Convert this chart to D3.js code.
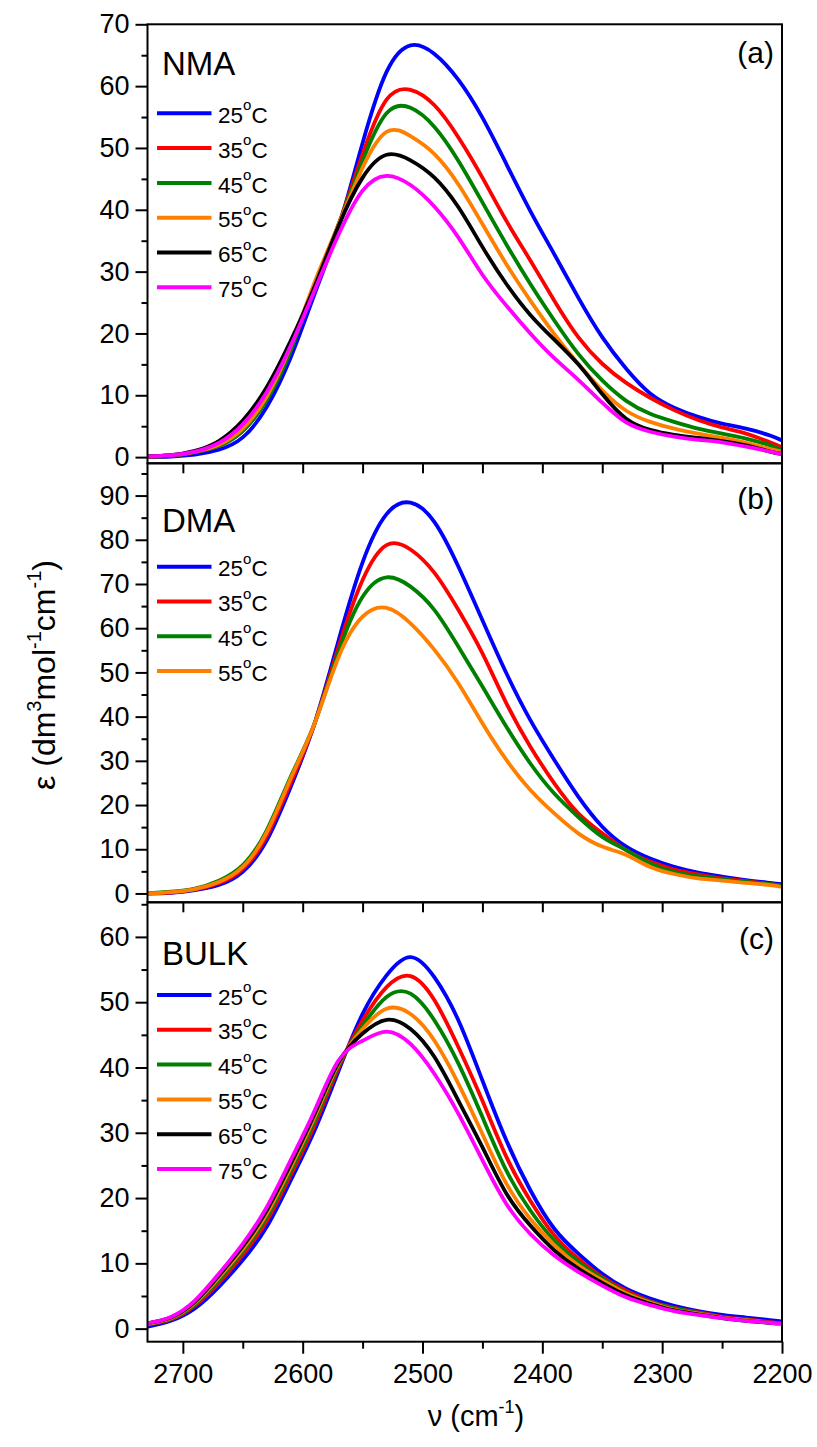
<!DOCTYPE html>
<html>
<head>
<meta charset="utf-8">
<script src="https://cdn.jsdelivr.net/npm/d3@7"></script>
<style>
  html, body { margin: 0; padding: 0; background: #fff; }
  svg { display: block; font-family: "Liberation Sans", Arial, sans-serif; }
</style>
</head>
<body>
<svg id="chart" width="817" height="1447"></svg>
<script>
// ---------------- DATA ----------------
const wavenumbers = [2730,2710,2690,2670,2650,2630,2610,2590,2570,2550,2530,2510,2490,2470,2450,2430,2410,2390,2370,2350,2330,2310,2290,2270,2250,2230,2210,2200];

const tempLabels = ["25", "35", "45", "55", "65", "75"];

// (a) NMA
const nma25 = [0.0,0.1,0.4,1.2,3.2,8.1,16.1,26.4,37.2,50.8,62.3,66.6,65.2,61.0,54.9,47.4,39.8,32.8,25.8,19.4,14.3,10.3,8.0,6.5,5.4,4.6,3.5,2.7];
const nma35 = [0.1,0.2,0.8,1.8,4.3,9.4,17.5,28.0,37.7,49.0,57.8,59.4,56.9,51.7,45.2,38.2,31.8,25.3,19.4,15.1,12.0,9.6,7.6,6.0,4.8,3.8,2.4,1.6];
const nma45 = [0.1,0.2,0.8,1.8,4.2,9.2,17.2,27.8,37.6,47.9,55.6,56.5,53.4,47.9,41.2,34.4,28.0,22.1,16.7,12.4,9.1,7.0,5.7,4.6,3.8,3.0,1.9,1.1];
const nma55 = [0.1,0.3,0.9,2.0,4.6,9.8,18.0,28.3,37.6,46.8,52.6,51.9,49.0,44.1,37.7,31.2,25.3,19.9,15.1,10.8,7.5,5.7,4.6,3.8,3.1,2.3,1.3,0.9];
const nma65 = [0.1,0.3,1.0,2.6,5.9,11.3,18.8,27.6,37.4,45.2,48.9,48.0,45.2,40.4,34.0,28.0,23.0,19.0,15.0,10.2,6.2,4.4,3.6,3.1,2.6,1.9,0.9,0.5];
const nma75 = [0.1,0.3,0.9,2.3,5.3,10.5,18.0,27.0,36.0,43.1,45.5,44.0,40.5,35.5,29.5,24.5,20.0,16.0,12.5,8.8,5.6,4.1,3.3,2.8,2.4,1.7,0.9,0.5];

// (b) DMA
const dma25 = [0.0,0.15,0.75,1.9,4.9,12.0,24.1,38.5,57.3,74.9,85.8,88.4,84.0,73.9,61.8,49.8,39.2,30.2,21.9,15.1,10.6,7.9,6.0,4.7,3.8,3.0,2.4,2.1];
const dma35 = [0.0,0.2,0.9,2.3,5.5,13.0,25.0,38.5,55.8,70.9,78.8,77.8,72.5,64.1,54.3,43.0,33.2,24.9,18.1,13.6,9.8,7.2,5.4,4.3,3.4,2.8,2.1,1.7];
const dma45 = [0.0,0.4,1.1,2.9,6.4,14.3,26.4,38.5,54.7,67.1,71.5,69.4,64.1,55.8,46.8,37.7,29.4,22.6,17.3,12.8,9.8,6.8,4.9,3.9,3.2,2.6,2.1,1.7];
const dma55 = [0.0,0.3,1.0,2.6,6.0,13.8,26.0,38.5,53.5,62.6,64.6,61.1,55.1,47.5,38.5,30.2,23.4,18.1,13.6,10.6,8.7,6.0,4.4,3.4,2.9,2.4,1.9,1.5];

// (c) BULK
const bulk25 = [0.25,1.2,3.1,6.4,10.5,15.6,22.7,30.4,39.5,48.2,54.1,56.9,53.8,47.2,38.0,28.8,21.2,15.3,11.5,8.4,6.1,4.6,3.5,2.7,2.1,1.7,1.3,1.1];
const bulk35 = [0.6,1.4,3.5,7.0,11.3,16.5,23.5,31.2,40.0,47.2,52.3,54.0,50.3,43.1,34.9,26.3,19.6,14.3,10.7,7.9,5.8,4.2,3.2,2.5,1.8,1.4,1.0,0.8];
const bulk45 = [0.7,1.5,3.7,7.4,11.8,17.1,24.1,31.8,40.3,46.4,50.8,51.3,47.2,40.6,32.4,24.2,18.1,13.5,10.2,7.7,5.5,4.1,3.1,2.4,1.7,1.3,0.9,0.8];
const bulk55 = [0.7,1.6,3.9,7.8,12.2,17.6,24.7,32.4,40.6,45.9,49.0,48.2,44.1,37.5,29.8,22.2,16.8,12.8,9.7,7.4,5.4,4.0,2.9,2.3,1.7,1.3,0.9,0.8];
const bulk65 = [0.8,1.7,4.1,8.1,12.6,18.1,25.2,32.9,40.8,45.2,47.3,45.9,41.6,34.9,27.8,20.7,15.8,12.0,9.2,7.0,5.1,3.8,2.8,2.2,1.6,1.2,0.9,0.8];
const bulk75 = [0.8,1.8,4.3,8.4,13.0,18.6,25.8,33.4,41.1,44.1,45.5,43.6,39.0,32.9,25.8,19.1,14.5,11.2,8.7,6.6,4.8,3.6,2.7,2.1,1.6,1.2,0.9,0.8];

const panelNames = ["NMA", "DMA", "BULK"];
const panelTags = ["(a)", "(b)", "(c)"];
const nmaYTicks = [0,10,20,30,40,50,60,70];
const dmaYTicks = [0,10,20,30,40,50,60,70,80,90];
const bulkYTicks = [0,10,20,30,40,50,60];
const xTickValues = [2700,2600,2500,2400,2300,2200];
const xMinorTickValues = [2650,2550,2450,2350,2250];

// ---------------- STYLE / LAYOUT ----------------
const colors = ["#0000ff", "#ff0000", "#008000", "#ff8000", "#000000", "#ff00ff"];
const left = 147.5, right = 782;
const FONT = "'Liberation Sans', Arial, sans-serif";

const panels = [
  { name: panelNames[0], tag: panelTags[0], series: [nma25, nma35, nma45, nma55, nma65, nma75],
    ticks: nmaYTicks, top: 24.3, bottom: 463.3, domain: [-1, 70],
    nameY: 75, tagY: 62.5, legendY: 113.3 },
  { name: panelNames[1], tag: panelTags[1], series: [dma25, dma35, dma45, dma55],
    ticks: dmaYTicks, top: 463.3, bottom: 902.3, domain: [-2, 97.3],
    nameY: 532, tagY: 509, legendY: 566.7 },
  { name: panelNames[2], tag: panelTags[2], series: [bulk25, bulk35, bulk45, bulk55, bulk65, bulk75],
    ticks: bulkYTicks, top: 902.3, bottom: 1341.7, domain: [-2, 65.3],
    nameY: 965, tagY: 949, legendY: 995 }
];

const svg = d3.select("#chart");
const x = d3.scaleLinear().domain([2729.5, 2200]).range([left, right]);

panels.forEach((p, pi) => {
  const y = d3.scaleLinear().domain(p.domain).range([p.bottom, p.top]);
  const g = svg.append("g");

  const clipId = "clip" + pi;
  svg.append("clipPath").attr("id", clipId)
    .append("rect").attr("x", left).attr("y", p.top).attr("width", right - left).attr("height", p.bottom - p.top);

  // curves
  const line = d3.line()
    .x((d, i) => x(wavenumbers[i]))
    .y(d => y(d))
    .curve(d3.curveNatural);
  const cg = g.append("g").attr("clip-path", `url(#${clipId})`);
  p.series.forEach((s, si) => {
    cg.append("path").attr("d", line(s))
      .attr("fill", "none").attr("stroke", colors[si])
      .attr("stroke-width", 3.8).attr("stroke-linejoin", "round").attr("stroke-linecap", "round");
  });

  // y axis major
  const yAx = g.append("g").attr("transform", `translate(${left},0)`)
    .call(d3.axisLeft(y).tickValues(p.ticks).tickSize(12).tickPadding(6).tickFormat(d3.format("d")));
  yAx.select(".domain").remove();
  yAx.selectAll("line").attr("stroke", "#000").attr("stroke-width", 2);
  yAx.selectAll("text").attr("font-size", 27).attr("fill", "#000").attr("font-family", FONT);

  // y axis minor
  const minor = p.ticks.slice(0, -1).map((t, i) => (t + p.ticks[i + 1]) / 2)
    .concat([p.ticks[p.ticks.length - 1] + 5]).filter(v => v <= p.domain[1]);
  const yMin = g.append("g").attr("transform", `translate(${left},0)`)
    .call(d3.axisLeft(y).tickValues(minor).tickSize(6).tickFormat(""));
  yMin.select(".domain").remove();
  yMin.selectAll("line").attr("stroke", "#000").attr("stroke-width", 2);

  // x ticks
  if (pi < 2) {
    const xt = g.append("g").attr("transform", `translate(0,${p.bottom})`)
      .call(d3.axisBottom(x).tickValues(xTickValues.concat(xMinorTickValues).filter(v => v > 2200.5)).tickSize(10).tickFormat(""));
    xt.select(".domain").remove();
    xt.selectAll("line").attr("stroke", "#000").attr("stroke-width", 2);
  } else {
    const xt = g.append("g").attr("transform", `translate(0,${p.bottom})`)
      .call(d3.axisBottom(x).tickValues(xTickValues).tickSize(12).tickPadding(10).tickFormat(d3.format("d")));
    xt.select(".domain").remove();
    xt.selectAll("line").attr("stroke", "#000").attr("stroke-width", 2);
    xt.selectAll("text").attr("font-size", 27).attr("fill", "#000").attr("font-family", FONT);
    const xm = g.append("g").attr("transform", `translate(0,${p.bottom})`)
      .call(d3.axisBottom(x).tickValues(xMinorTickValues).tickSize(7).tickFormat(""));
    xm.select(".domain").remove();
    xm.selectAll("line").attr("stroke", "#000").attr("stroke-width", 2);
  }

  // frame
  g.append("rect").attr("x", left).attr("y", p.top).attr("width", right - left).attr("height", p.bottom - p.top)
    .attr("fill", "none").attr("stroke", "#000").attr("stroke-width", 2);

  // panel name and tag
  g.append("text").attr("x", 162).attr("y", p.nameY).attr("font-size", 33).attr("fill", "#000").text(p.name);
  g.append("text").attr("x", 774).attr("y", p.tagY).attr("font-size", 30).attr("text-anchor", "end")
    .attr("fill", "#000").text(p.tag);

  // legend
  p.series.forEach((s, si) => {
    const ly = p.legendY + si * 34.8;
    g.append("line").attr("x1", 157).attr("x2", 211.5).attr("y1", ly).attr("y2", ly)
      .attr("stroke", colors[si]).attr("stroke-width", 4);
    const t = g.append("text").attr("x", 218).attr("y", ly + 9.6).attr("font-size", 22.5).attr("fill", "#000");
    t.append("tspan").text(tempLabels[si]);
    t.append("tspan").attr("font-size", 15).attr("dy", -12.5).text("o");
    t.append("tspan").attr("dy", 12.5).text("C");
  });
});

// x axis title
const xt = svg.append("text").attr("x", 476).attr("y", 1426).attr("text-anchor", "middle")
  .attr("font-size", 29).attr("fill", "#000");
xt.append("tspan").text("ν (cm");
xt.append("tspan").attr("font-size", 18).attr("dy", -13).text("-1");
xt.append("tspan").attr("dy", 13).text(")");

// y axis title
const yt = svg.append("text").attr("transform", "translate(55,675) rotate(-90)")
  .attr("text-anchor", "middle").attr("font-size", 32).attr("fill", "#000");
yt.append("tspan").text("ε (dm");
yt.append("tspan").attr("font-size", 20).attr("dy", -14).text("3");
yt.append("tspan").attr("dy", 14).text("mol");
yt.append("tspan").attr("font-size", 20).attr("dy", -14).text("-1");
yt.append("tspan").attr("dy", 14).text("cm");
yt.append("tspan").attr("font-size", 20).attr("dy", -14).text("-1");
yt.append("tspan").attr("dy", 14).text(")");
</script>
</body>
</html>
